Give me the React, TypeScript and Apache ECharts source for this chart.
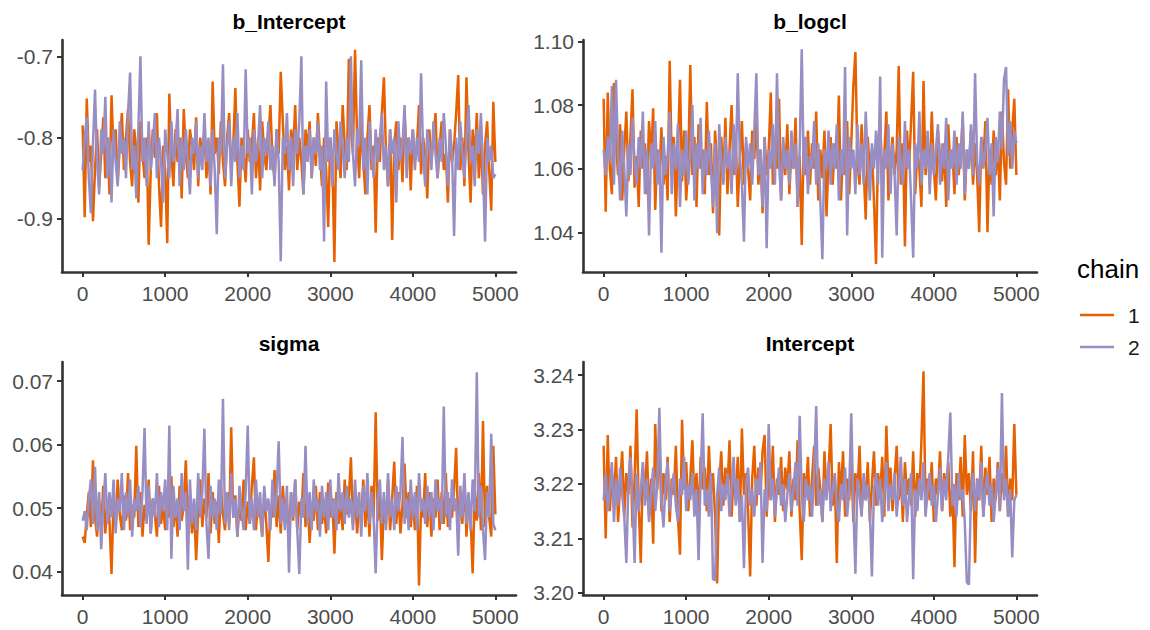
import React, { useEffect, useRef } from "react";
import * as echarts from "echarts";

// ---------- data ----------
const ITER_STEP = 25; // iteration spacing of the stored draws (0 .. 5000)
const xTicks = [0, 1000, 2000, 3000, 4000, 5000];
const panelTitles = ["b_Intercept", "b_logcl", "sigma", "Intercept"];
const chainNames = ["1", "2"];
const chainColors = ["#E66101", "#998EC3"];

const yTicksBIntercept = [-0.9, -0.8, -0.7];
const yTicksBLogcl = [1.04, 1.06, 1.08, 1.1];
const yTicksSigma = [0.04, 0.05, 0.06, 0.07];
const yTicksIntercept = [3.2, 3.21, 3.22, 3.23, 3.24];

const bInterceptChain1 = [
  -0.785, -0.898, -0.752, -0.83, -0.81, -0.903, -0.84, -0.79, -0.86, -0.82,
  -0.775, -0.85, -0.80, -0.87, -0.748, -0.82, -0.79, -0.855, -0.81, -0.77,
  -0.84, -0.80, -0.765, -0.83, -0.86, -0.79, -0.815, -0.88, -0.78, -0.82,
  -0.85, -0.80, -0.932, -0.84, -0.79, -0.825, -0.77, -0.86, -0.91, -0.81,
  -0.84, -0.930, -0.746, -0.82, -0.86, -0.79, -0.83, -0.80, -0.875, -0.765,
  -0.82, -0.85, -0.79, -0.81, -0.84, -0.775, -0.86, -0.80, -0.83, -0.79,
  -0.85, -0.81, -0.87, -0.731, -0.82, -0.80, -0.845, -0.78, -0.83, -0.86,
  -0.80, -0.77, -0.84, -0.81, -0.739, -0.83, -0.885, -0.80, -0.82, -0.855,
  -0.79, -0.83, -0.81, -0.77, -0.85, -0.80, -0.865, -0.78, -0.82, -0.84,
  -0.80, -0.76, -0.83, -0.85, -0.79, -0.82, -0.719, -0.78, -0.84, -0.81,
  -0.865, -0.79, -0.82, -0.76, -0.84, -0.80, -0.83, -0.87, -0.79, -0.815,
  -0.78, -0.85, -0.80, -0.835, -0.77, -0.82, -0.86, -0.80, -0.84, -0.91,
  -0.80, -0.83, -0.953, -0.78, -0.82, -0.85, -0.76, -0.81, -0.84, -0.703,
  -0.79, -0.82, -0.692, -0.80, -0.85, -0.78, -0.83, -0.87, -0.80, -0.76,
  -0.84, -0.81, -0.917, -0.80, -0.83, -0.77, -0.726, -0.82, -0.86, -0.79,
  -0.926, -0.81, -0.78, -0.84, -0.80, -0.855, -0.77, -0.82, -0.80, -0.865,
  -0.79, -0.83, -0.81, -0.76, -0.845, -0.80, -0.82, -0.875, -0.79, -0.83,
  -0.80, -0.77, -0.85, -0.81, -0.78, -0.84, -0.82, -0.88, -0.79, -0.83,
  -0.81, -0.77, -0.723, -0.84, -0.80, -0.86, -0.726, -0.82, -0.88, -0.79,
  -0.83, -0.77, -0.85, -0.80, -0.87, -0.81, -0.78, -0.84, -0.89, -0.756,
  -0.83,
];
const bInterceptChain2 = [
  -0.84, -0.80, -0.775, -0.85, -0.893, -0.81, -0.741, -0.83, -0.87, -0.79,
  -0.82, -0.75, -0.85, -0.80, -0.88, -0.79, -0.83, -0.86, -0.78, -0.82,
  -0.80, -0.85, -0.77, -0.72, -0.84, -0.81, -0.875, -0.79, -0.70, -0.83,
  -0.80, -0.86, -0.78, -0.84, -0.81, -0.77, -0.85, -0.80, -0.83, -0.88,
  -0.79, -0.82, -0.85, -0.78, -0.83, -0.81, -0.765, -0.86, -0.80, -0.84,
  -0.79, -0.83, -0.87, -0.80, -0.82, -0.78, -0.85, -0.81, -0.84, -0.77,
  -0.83, -0.80, -0.86, -0.79, -0.84, -0.919, -0.80, -0.82, -0.71, -0.85,
  -0.81, -0.78, -0.86, -0.80, -0.83, -0.77, -0.85, -0.81, -0.84, -0.716,
  -0.82, -0.80, -0.87, -0.79, -0.83, -0.81, -0.76, -0.85, -0.80, -0.82,
  -0.78, -0.84, -0.81, -0.86, -0.79, -0.83, -0.952, -0.80, -0.82, -0.77,
  -0.84, -0.80, -0.86, -0.79, -0.82, -0.78, -0.70, -0.87, -0.81, -0.83,
  -0.79, -0.85, -0.80, -0.82, -0.78, -0.84, -0.81, -0.928, -0.731, -0.83,
  -0.80, -0.86, -0.79, -0.82, -0.84, -0.78, -0.81, -0.85, -0.80, -0.83,
  -0.70, -0.82, -0.86, -0.79, -0.81, -0.705, -0.84, -0.80, -0.87, -0.78,
  -0.82, -0.85, -0.79, -0.83, -0.80, -0.77, -0.84, -0.81, -0.86, -0.79,
  -0.82, -0.80, -0.88, -0.78, -0.83, -0.81, -0.76, -0.85, -0.80, -0.82,
  -0.79, -0.84, -0.80, -0.83, -0.721, -0.82, -0.86, -0.79, -0.81, -0.84,
  -0.78, -0.82, -0.85, -0.80, -0.83, -0.77, -0.81, -0.86, -0.79, -0.82,
  -0.921, -0.80, -0.84, -0.78, -0.82, -0.85, -0.80, -0.76, -0.83, -0.81,
  -0.86, -0.79, -0.82, -0.77, -0.84, -0.928, -0.80, -0.83, -0.81, -0.85,
  -0.845,
];

const bLogclChain1 = [
  1.082, 1.0465, 1.084, 1.06, 1.052, 1.087, 1.068, 1.058, 1.074, 1.05,
  1.066, 1.078, 1.056, 1.07, 1.085, 1.054, 1.064, 1.048, 1.072, 1.06,
  1.068, 1.052, 1.075, 1.063, 1.079, 1.047, 1.066, 1.058, 1.073, 1.055,
  1.064, 1.05, 1.094, 1.062, 1.07, 1.045, 1.066, 1.088, 1.056, 1.072,
  1.05, 1.062, 1.0926, 1.058, 1.07, 1.048, 1.074, 1.06, 1.066, 1.052,
  1.081, 1.058, 1.068, 1.046, 1.072, 1.061, 1.039, 1.07, 1.056, 1.076,
  1.052, 1.066, 1.08, 1.058, 1.07, 1.048, 1.064, 1.075, 1.055, 1.068,
  1.06, 1.05, 1.072, 1.063, 1.078, 1.055, 1.066, 1.046, 1.07, 1.058,
  1.066, 1.084, 1.055, 1.07, 1.06, 1.082, 1.05, 1.068, 1.058, 1.074,
  1.052, 1.066, 1.06, 1.076, 1.048, 1.064, 1.036, 1.07, 1.058, 1.072,
  1.055, 1.068, 1.06, 1.078, 1.05, 1.066, 1.057, 1.072, 1.045, 1.064,
  1.07, 1.055, 1.068, 1.06, 1.083, 1.05, 1.066, 1.058, 1.075, 1.052,
  1.068, 1.086, 1.0967, 1.062, 1.055, 1.074, 1.06, 1.044, 1.07, 1.058,
  1.066, 1.05, 1.03, 1.068, 1.075, 1.056, 1.064, 1.078, 1.05, 1.062,
  1.07, 1.058, 1.066, 1.0923, 1.055, 1.068, 1.0355, 1.072, 1.06, 1.075,
  1.0905, 1.052, 1.066, 1.06, 1.048, 1.0876, 1.058, 1.07, 1.055, 1.078,
  1.06, 1.05, 1.072, 1.064, 1.056, 1.068, 1.048, 1.074, 1.06, 1.066,
  1.052, 1.07, 1.058, 1.064, 1.076, 1.05, 1.066, 1.06, 1.072, 1.055,
  1.068, 1.058, 1.04, 1.07, 1.062, 1.075, 1.04, 1.066, 1.055, 1.072,
  1.058, 1.068, 1.05, 1.078, 1.062, 1.055, 1.085, 1.06, 1.072, 1.082,
  1.058,
];
const bLogclChain2 = [
  1.066, 1.058, 1.07, 1.062, 1.086, 1.055, 1.088, 1.064, 1.05, 1.072,
  1.06, 1.045, 1.068, 1.058, 1.076, 1.062, 1.055, 1.07, 1.06, 1.078,
  1.052, 1.066, 1.039, 1.068, 1.06, 1.075, 1.055, 1.066, 1.0336, 1.07,
  1.058, 1.064, 1.078, 1.052, 1.068, 1.06, 1.074, 1.048, 1.066, 1.058,
  1.072, 1.055, 1.064, 1.08, 1.05, 1.068, 1.06, 1.076, 1.052, 1.066,
  1.058, 1.072, 1.06, 1.048, 1.068, 1.0397, 1.074, 1.062, 1.055, 1.07,
  1.06, 1.066, 1.052, 1.074, 1.058, 1.09, 1.064, 1.055, 1.037, 1.07,
  1.06, 1.068, 1.055, 1.072, 1.09, 1.058, 1.066, 1.048, 1.07, 1.035,
  1.066, 1.06, 1.074, 1.055, 1.09, 1.062, 1.05, 1.07, 1.06, 1.066,
  1.055, 1.072, 1.06, 1.068, 1.048, 1.066, 1.0976, 1.058, 1.07, 1.052,
  1.064, 1.06, 1.075, 1.055, 1.068, 1.05, 1.0315, 1.066, 1.06, 1.072,
  1.055, 1.068, 1.06, 1.074, 1.05, 1.066, 1.058, 1.092, 1.039, 1.07,
  1.06, 1.066, 1.052, 1.074, 1.058, 1.068, 1.055, 1.078, 1.062, 1.05,
  1.068, 1.06, 1.072, 1.055, 1.089, 1.032, 1.066, 1.06, 1.074, 1.052,
  1.068, 1.058, 1.039, 1.07, 1.062, 1.055, 1.075, 1.06, 1.066, 1.05,
  1.032, 1.068, 1.06, 1.078, 1.055, 1.066, 1.06, 1.072, 1.052, 1.068,
  1.058, 1.066, 1.074, 1.055, 1.068, 1.06, 1.076, 1.05, 1.066, 1.06,
  1.072, 1.055, 1.068, 1.06, 1.078, 1.052, 1.066, 1.06, 1.074, 1.058,
  1.09, 1.062, 1.055, 1.07, 1.06, 1.066, 1.076, 1.058, 1.068, 1.045,
  1.07, 1.062, 1.078, 1.066, 1.088, 1.092, 1.064, 1.075, 1.06, 1.072,
  1.068,
];

const sigmaChain1 = [
  0.0455, 0.0445, 0.049, 0.0525, 0.047, 0.0575, 0.0485, 0.0455, 0.051, 0.047,
  0.0535, 0.046, 0.0505, 0.048, 0.0396, 0.0515, 0.0475, 0.0545, 0.049, 0.0465,
  0.052, 0.048, 0.0555, 0.0465, 0.0505, 0.0485, 0.0598, 0.047, 0.0525, 0.0455,
  0.0505, 0.048, 0.0545, 0.046, 0.0515, 0.049, 0.0455, 0.0535, 0.0475, 0.0505,
  0.0465, 0.0525, 0.0485, 0.055, 0.047, 0.051, 0.0455, 0.0535, 0.048, 0.0505,
  0.0575, 0.0475, 0.052, 0.046, 0.0505, 0.0418, 0.0495, 0.0545, 0.047, 0.0515,
  0.0485, 0.0555, 0.046, 0.0525, 0.0475, 0.051, 0.0445, 0.0535, 0.049, 0.0465,
  0.0525, 0.0475, 0.0627, 0.0485, 0.052, 0.0455, 0.0505, 0.048, 0.0545, 0.0465,
  0.051, 0.0475, 0.0535, 0.058, 0.0465, 0.0515, 0.049, 0.0455, 0.0525, 0.0475,
  0.0415, 0.0505, 0.0485, 0.056, 0.047, 0.052, 0.046, 0.0535, 0.0485, 0.0505,
  0.0455, 0.0525, 0.048, 0.0545, 0.0465, 0.051, 0.0485, 0.0555, 0.047, 0.0515,
  0.0445, 0.0505, 0.048, 0.0535, 0.0465, 0.0525, 0.0475, 0.0505, 0.046, 0.054,
  0.0485, 0.0515, 0.0428, 0.0525, 0.0475, 0.0505, 0.0465, 0.0545, 0.049, 0.0515,
  0.058, 0.0475, 0.0525, 0.046, 0.0505, 0.0485, 0.0545, 0.047, 0.052, 0.0455,
  0.0535, 0.0485, 0.0651, 0.048, 0.0525, 0.0418, 0.0505, 0.0475, 0.0545, 0.0465,
  0.0515, 0.0573, 0.0475, 0.0525, 0.046, 0.0505, 0.057, 0.0485, 0.0525, 0.047,
  0.0515, 0.0465, 0.0535, 0.0378, 0.0505, 0.0485, 0.0555, 0.047, 0.0525, 0.0455,
  0.0515, 0.0485, 0.0545, 0.0465, 0.0525, 0.0475, 0.0555, 0.047, 0.0515, 0.0485,
  0.053, 0.0595, 0.0465, 0.052, 0.0475, 0.0545, 0.0455, 0.0515, 0.0485, 0.0397,
  0.0525, 0.048, 0.0555, 0.0465, 0.0637, 0.047, 0.0535, 0.0485, 0.0455, 0.0598,
  0.049,
];
const sigmaChain2 = [
  0.048, 0.0495, 0.0465, 0.0515, 0.0545, 0.0475, 0.0565, 0.0465, 0.0525, 0.0435,
  0.0505, 0.0555, 0.0475, 0.0525, 0.0485, 0.0545, 0.046, 0.0515, 0.0495, 0.0555,
  0.0465, 0.0525, 0.0485, 0.0545, 0.0455, 0.0515, 0.0495, 0.0535, 0.047, 0.0525,
  0.0626, 0.0475, 0.0535, 0.046, 0.0515, 0.0485, 0.0555, 0.047, 0.0525, 0.0495,
  0.0545, 0.0465, 0.063, 0.042, 0.0535, 0.0485, 0.0515, 0.0465, 0.0555, 0.0495,
  0.0525, 0.0403, 0.0545, 0.0475, 0.0515, 0.0465, 0.0555, 0.0485, 0.0525, 0.0625,
  0.0475, 0.042, 0.0535, 0.0485, 0.0515, 0.0465, 0.0545, 0.049, 0.0672, 0.0475,
  0.0525, 0.0465, 0.0555, 0.0485, 0.0515, 0.0455, 0.0535, 0.0495, 0.0465, 0.0525,
  0.063, 0.0475, 0.0515, 0.0465, 0.0545, 0.0485, 0.0525, 0.0455, 0.0535, 0.0495,
  0.0515, 0.0465, 0.0545, 0.0485, 0.0525, 0.0605, 0.0475, 0.0515, 0.0465, 0.0535,
  0.0398, 0.0525, 0.0485, 0.0545, 0.0465, 0.0396, 0.0515, 0.0485, 0.0598, 0.0475,
  0.0525, 0.0465, 0.0545, 0.0495, 0.0515, 0.0455, 0.0535, 0.0485, 0.0525, 0.0465,
  0.0545, 0.0485, 0.0515, 0.0465, 0.0555, 0.0495, 0.0525, 0.0475, 0.0535, 0.0485,
  0.0515, 0.0465, 0.0545, 0.0485, 0.0525, 0.0455, 0.0535, 0.0495, 0.0555, 0.0475,
  0.0525, 0.0485, 0.0397, 0.0515, 0.0545, 0.0475, 0.0525, 0.0465, 0.0555, 0.0485,
  0.0515, 0.0465, 0.0535, 0.0495, 0.0525, 0.0612, 0.0475, 0.0515, 0.0465, 0.0545,
  0.0485, 0.0525, 0.0465, 0.0555, 0.0495, 0.0515, 0.0475, 0.0535, 0.0485, 0.0525,
  0.0465, 0.0545, 0.0495, 0.0515, 0.0475, 0.066, 0.0485, 0.0525, 0.0465, 0.0545,
  0.0495, 0.0515, 0.0425, 0.0535, 0.0485, 0.0555, 0.0475, 0.0525, 0.0465, 0.0545,
  0.0495, 0.0714, 0.0485, 0.0535, 0.0465, 0.0418, 0.0525, 0.0485, 0.0617, 0.0475,
  0.0465,
];

const interceptChain1 = [
  3.227, 3.21, 3.229, 3.215, 3.222, 3.217, 3.225, 3.213, 3.22, 3.226,
  3.214, 3.222, 3.218, 3.227, 3.212, 3.221, 3.2337, 3.216, 3.2055, 3.223,
  3.218, 3.226, 3.214, 3.221, 3.209, 3.231, 3.219, 3.228, 3.215, 3.222,
  3.217, 3.225, 3.213, 3.221, 3.218, 3.227, 3.214, 3.207, 3.2318, 3.219,
  3.224, 3.215, 3.221, 3.228, 3.216, 3.222, 3.213, 3.225, 3.219, 3.223,
  3.215, 3.227, 3.218, 3.222, 3.214, 3.2017, 3.22, 3.226, 3.216, 3.223,
  3.219, 3.228, 3.214, 3.222, 3.217, 3.225, 3.213, 3.2302, 3.218, 3.222,
  3.215, 3.203, 3.221, 3.227, 3.216, 3.223, 3.218, 3.226, 3.229, 3.214,
  3.222, 3.217, 3.227, 3.213, 3.221, 3.218, 3.225, 3.215, 3.223, 3.219,
  3.226, 3.214, 3.221, 3.217, 3.228, 3.215, 3.206, 3.222, 3.218, 3.225,
  3.214, 3.221, 3.227, 3.216, 3.223, 3.219, 3.213, 3.226, 3.218, 3.222,
  3.231, 3.216, 3.221, 3.2055, 3.224, 3.218, 3.226, 3.214, 3.221, 3.217,
  3.225, 3.213, 3.222, 3.218, 3.227, 3.215, 3.221, 3.217, 3.224, 3.213,
  3.22, 3.226, 3.216, 3.222, 3.218, 3.225, 3.214, 3.2307, 3.219, 3.223,
  3.215, 3.221, 3.227, 3.217, 3.222, 3.213, 3.224, 3.218, 3.221, 3.216,
  3.226, 3.214, 3.222, 3.218, 3.228, 3.2407, 3.215, 3.221, 3.217, 3.224,
  3.213, 3.221, 3.218, 3.226, 3.215, 3.222, 3.219, 3.224, 3.214, 3.22,
  3.2047, 3.222, 3.217, 3.225, 3.214, 3.229, 3.218, 3.222, 3.215, 3.226,
  3.2055, 3.221, 3.217, 3.227, 3.214, 3.223, 3.218, 3.225, 3.213, 3.221,
  3.217, 3.224, 3.215, 3.222, 3.218, 3.227, 3.214, 3.221, 3.217, 3.231,
  3.218,
];
const interceptChain2 = [
  3.217, 3.222, 3.215, 3.219, 3.224, 3.213, 3.221, 3.216, 3.223, 3.218,
  3.214, 3.2055, 3.22, 3.225, 3.217, 3.2055, 3.222, 3.215, 3.219, 3.224,
  3.216, 3.221, 3.213, 3.218, 3.223, 3.215, 3.22, 3.234, 3.217, 3.212,
  3.22, 3.224, 3.215, 3.219, 3.222, 3.216, 3.213, 3.221, 3.218, 3.225,
  3.215, 3.22, 3.217, 3.222, 3.214, 3.219, 3.206, 3.221, 3.233, 3.216,
  3.219, 3.214, 3.222, 3.2025, 3.2023, 3.218, 3.223, 3.215, 3.22, 3.217,
  3.222, 3.214, 3.219, 3.225, 3.216, 3.221, 3.213, 3.218, 3.2045, 3.22,
  3.223, 3.216, 3.219, 3.214, 3.221, 3.218, 3.224, 3.2055, 3.219, 3.215,
  3.231, 3.217, 3.221, 3.214, 3.219, 3.223, 3.216, 3.22, 3.213, 3.218,
  3.222, 3.215, 3.219, 3.224, 3.216, 3.2325, 3.218, 3.213, 3.221, 3.217,
  3.22, 3.214, 3.222, 3.2343, 3.216, 3.219, 3.213, 3.221, 3.217, 3.224,
  3.215, 3.219, 3.222, 3.216, 3.213, 3.22, 3.217, 3.223, 3.214, 3.219,
  3.233, 3.216, 3.2035, 3.221, 3.218, 3.214, 3.222, 3.217, 3.22, 3.215,
  3.203, 3.219, 3.222, 3.216, 3.221, 3.213, 3.218, 3.224, 3.215, 3.22,
  3.217, 3.222, 3.214, 3.219, 3.225, 3.216, 3.221, 3.213, 3.218, 3.222,
  3.2025, 3.219, 3.215, 3.221, 3.217, 3.224, 3.214, 3.219, 3.222, 3.216,
  3.22, 3.213, 3.218, 3.223, 3.215, 3.221, 3.217, 3.225, 3.2331, 3.216,
  3.22, 3.214, 3.222, 3.217, 3.219, 3.213, 3.202, 3.2015, 3.218, 3.222,
  3.215, 3.221, 3.217, 3.224, 3.214, 3.219, 3.222, 3.216, 3.22, 3.213,
  3.218, 3.223, 3.215, 3.2367, 3.217, 3.221, 3.214, 3.219, 3.2065, 3.217,
  3.218,
];

// ---------- layout / styling ----------
const FONT = "'Liberation Sans', Arial, Helvetica, sans-serif";
const AXIS_COLOR = "#333333";
const LABEL_COLOR = "#4D4D4D";

const panels = [
  { title: panelTitles[0], chains: [bInterceptChain1, bInterceptChain2], ticks: yTicksBIntercept, dec: 1, range: [-0.9654, -0.68], grid: { left: 62, top: 40, width: 454, height: 232 } },
  { title: panelTitles[1], chains: [bLogclChain1, bLogclChain2], ticks: yTicksBLogcl, dec: 2, range: [1.0275, 1.1005], grid: { left: 583, top: 40, width: 454, height: 232 } },
  { title: panelTitles[2], chains: [sigmaChain1, sigmaChain2], ticks: yTicksSigma, dec: 2, range: [0.0363, 0.073], grid: { left: 62, top: 362, width: 454, height: 233 } },
  { title: panelTitles[3], chains: [interceptChain1, interceptChain2], ticks: yTicksIntercept, dec: 2, range: [3.1996, 3.2424], grid: { left: 583, top: 362, width: 454, height: 233 } },
];

export default function App() {
  const ref = useRef<HTMLDivElement>(null);

  useEffect(() => {
    document.body.style.margin = "0";
    if (!ref.current) return;
    const chart = echarts.init(ref.current, null, { renderer: "svg" });

    const grids = panels.map((p) => ({ ...p.grid, containLabel: false }));
    const xAxes = panels.map((p, i) => ({
      type: "value",
      gridIndex: i,
      min: -250,
      max: 5250,
      splitLine: { show: false },
      axisLine: { show: true, onZero: false, lineStyle: { color: AXIS_COLOR, width: 2.6 } },
      axisTick: { show: true, length: 5, customValues: xTicks, lineStyle: { color: AXIS_COLOR, width: 2 } },
      axisLabel: {
        customValues: xTicks,
        margin: 11,
        color: LABEL_COLOR,
        fontSize: 21,
        fontFamily: FONT,
        formatter: (v: number) => String(v),
      },
    }));
    const yAxes = panels.map((p, i) => ({
      type: "value",
      gridIndex: i,
      min: p.range[0],
      max: p.range[1],
      scale: true,
      splitLine: { show: false },
      axisLine: { show: true, onZero: false, lineStyle: { color: AXIS_COLOR, width: 2.6 } },
      axisTick: { show: true, length: 5, customValues: p.ticks, lineStyle: { color: AXIS_COLOR, width: 2 } },
      axisLabel: {
        customValues: p.ticks,
        margin: 9,
        color: LABEL_COLOR,
        fontSize: 21,
        fontFamily: FONT,
        formatter: (v: number) => v.toFixed(p.dec),
      },
    }));

    const series: any[] = [];
    panels.forEach((p, i) => {
      p.chains.forEach((vals, c) => {
        series.push({
          type: "line",
          name: chainNames[c],
          xAxisIndex: i,
          yAxisIndex: i,
          data: vals.map((v, k) => [k * ITER_STEP, v]),
          symbol: "none",
          showSymbol: false,
          lineStyle: { color: chainColors[c], width: 2.5, join: "bevel" },
          itemStyle: { color: chainColors[c] },
          z: 2 + c,
          silent: true,
        });
      });
    });

    const titleGraphics = panels.map((p) => ({
      type: "text",
      x: p.grid.left + p.grid.width / 2,
      y: p.grid.top - 19,
      style: {
        text: p.title,
        align: "center",
        verticalAlign: "middle",
        font: `bold 21px ${FONT}`,
        fill: "#000000",
      },
    }));

    chart.setOption({
      animation: false,
      backgroundColor: "#ffffff",
      grid: grids,
      xAxis: xAxes,
      yAxis: yAxes,
      series,
      legend: {
        data: chainNames.map((n, c) => ({ name: n, icon: "rect", itemStyle: { color: chainColors[c] } })),
        orient: "vertical",
        left: 1080,
        top: 304.5,
        itemWidth: 34,
        itemHeight: 2.5,
        itemGap: 11,
        padding: 0,
        textStyle: { fontSize: 21, lineHeight: 21, fontFamily: FONT, color: "#1A1A1A", padding: [0, 0, 0, 9] },
        selectedMode: false,
      },
      graphic: [
        ...titleGraphics,
        {
          type: "text",
          x: 1077,
          y: 269,
          style: {
            text: "chain",
            align: "left",
            verticalAlign: "middle",
            font: `26px ${FONT}`,
            fill: "#000000",
          },
        },
      ],
    });

    return () => {
      chart.dispose();
    };
  }, []);

  return <div ref={ref} style={{ width: 1150, height: 630 }} />;
}
